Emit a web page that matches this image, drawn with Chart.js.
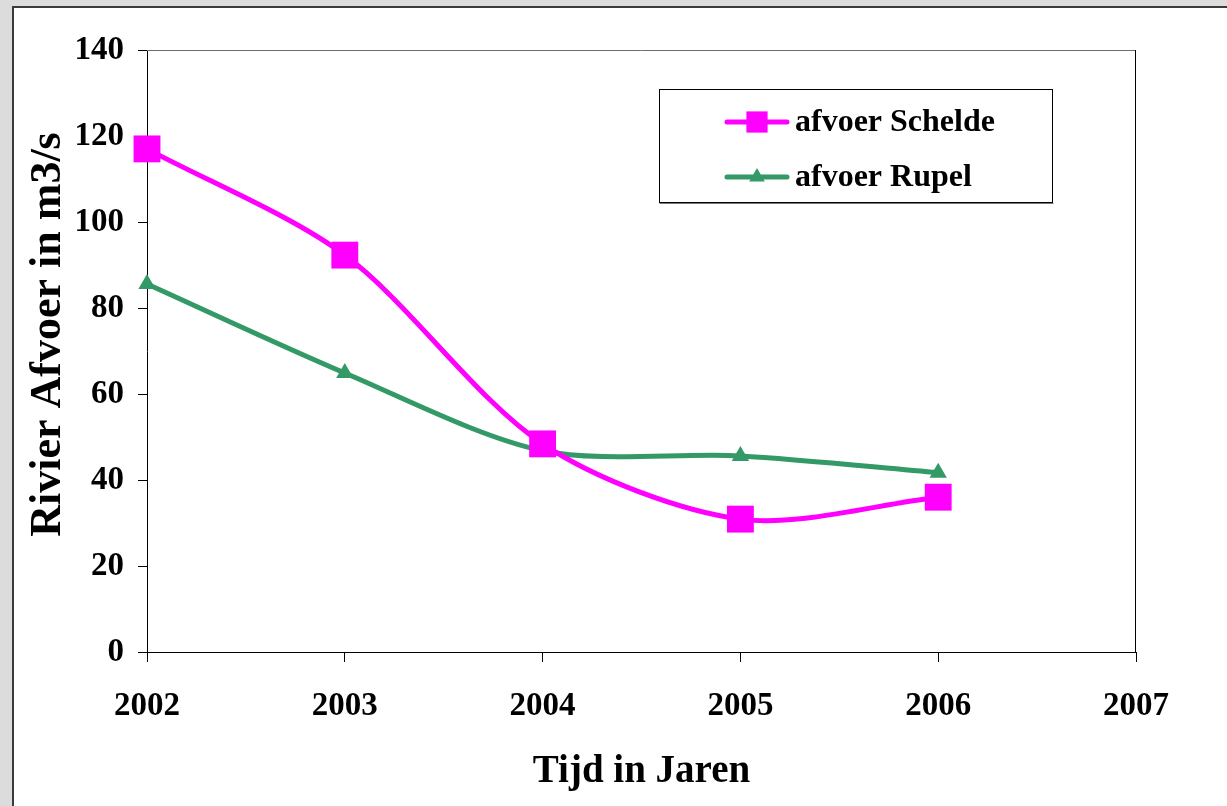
<!DOCTYPE html>
<html>
<head>
<meta charset="utf-8">
<title>Rivier Afvoer</title>
<script src="https://cdn.jsdelivr.net/npm/chart.js@4.4.1/dist/chart.umd.min.js"></script>
<style>
  html, body { margin: 0; padding: 0; width: 1227px; height: 806px; overflow: hidden; background: #dcdcdc; }
  #panel { position: absolute; left: 12px; top: 6px; width: 1300px; height: 900px; background: #ffffff;
           border-left: 2px solid #3a3a3a; border-top: 2px solid #3a3a3a; }
  #chart { position: absolute; left: 0; top: 0; }
</style>
</head>
<body>
<div id="panel"></div>
<canvas id="chart" width="1227" height="806"></canvas>
<script>
// Jaarlijkse afvoer (m3/s)
const years   = [2002, 2003, 2004, 2005, 2006];
const schelde = [117, 92.3, 48.4, 30.9, 36.0];
const rupel   = [85.6, 64.9, 46.8, 45.6, 41.7];

const yTicks = [0, 20, 40, 60, 80, 100, 120, 140];
const xTicks = [2002, 2003, 2004, 2005, 2006, 2007];

const seriesNames = ['afvoer Schelde', 'afvoer Rupel'];
const axisTitles = { x: 'Tijd in Jaren', y: '   Rivier Afvoer in m3/s' };

const SERIF = "'Liberation Serif', 'Times New Roman', serif";
Chart.defaults.font.family = SERIF;
Chart.defaults.color = '#000000';

const toPoints = vals => years.map((yr, i) => ({ x: yr, y: vals[i] }));

// Plot frame: top and right edges of the plot area
const frame = {
  id: 'frame',
  afterDatasetsDraw(chart) {
    const { ctx, chartArea: a } = chart;
    ctx.save();
    ctx.lineWidth = 1;
    ctx.strokeStyle = '#6e6e6e';
    ctx.beginPath();
    ctx.moveTo(a.left, a.top + 0.5);
    ctx.lineTo(a.right, a.top + 0.5);
    ctx.stroke();
    ctx.strokeStyle = '#000000';
    ctx.beginPath();
    ctx.moveTo(a.right - 0.5, a.top);
    ctx.lineTo(a.right - 0.5, a.bottom);
    ctx.stroke();
    ctx.restore();
  }
};

// Boxed legend inside the plot area
const boxLegend = {
  id: 'boxLegend',
  afterDraw(chart) {
    const { ctx } = chart;
    const box = { x: 659.5, y: 89.5, w: 393, h: 113 };
    ctx.save();
    ctx.fillStyle = '#ffffff';
    ctx.fillRect(box.x, box.y, box.w, box.h);
    ctx.lineWidth = 1;
    ctx.strokeStyle = '#000000';
    ctx.strokeRect(box.x, box.y, box.w, box.h);
    ctx.strokeStyle = '#7a7a7a';
    ctx.beginPath();
    ctx.moveTo(box.x, box.y + box.h + 1);
    ctx.lineTo(box.x + box.w + 1, box.y + box.h + 1);
    ctx.stroke();

    const rows = [122, 177];
    const markerRadius = [15, 9];
    chart.data.datasets.forEach((ds, i) => {
      const y = rows[i];
      ctx.strokeStyle = ds.borderColor;
      ctx.lineWidth = 5;
      ctx.lineCap = 'round';
      ctx.beginPath();
      ctx.moveTo(727, y);
      ctx.lineTo(787, y);
      ctx.stroke();
      ctx.fillStyle = ds.pointBackgroundColor;
      ctx.strokeStyle = ds.pointBackgroundColor;
      Chart.helpers.drawPoint(ctx, {
        pointStyle: ds.pointStyle, radius: markerRadius[i], rotation: 0, borderWidth: 0
      }, 757, y);
      ctx.fillStyle = '#000000';
      ctx.font = 'bold 32px ' + SERIF;
      ctx.textBaseline = 'middle';
      ctx.textAlign = 'left';
      ctx.fillText(ds.label, 795, y + 1);
    });
    ctx.restore();
  }
};

new Chart(document.getElementById('chart'), {
  type: 'line',
  data: {
    datasets: [
      {
        label: seriesNames[0],
        data: toPoints(schelde),
        borderColor: '#ff00ff',
        backgroundColor: '#ff00ff',
        pointBackgroundColor: '#ff00ff',
        pointBorderColor: '#ff00ff',
        borderWidth: 5,
        pointStyle: 'rect',
        pointRadius: 19,
        pointHoverRadius: 19,
        pointBorderWidth: 0,
        tension: 0.3,
        clip: false
      },
      {
        label: seriesNames[1],
        data: toPoints(rupel),
        borderColor: '#339966',
        backgroundColor: '#339966',
        pointBackgroundColor: '#339966',
        pointBorderColor: '#339966',
        borderWidth: 5,
        pointStyle: 'triangle',
        pointRadius: 10,
        pointHoverRadius: 10,
        pointBorderWidth: 0,
        tension: 0.3,
        clip: false
      }
    ]
  },
  options: {
    responsive: false,
    animation: false,
    devicePixelRatio: 1,
    layout: { padding: { left: 0, top: 50, right: 91, bottom: 0 } },
    plugins: {
      legend: { display: false },
      tooltip: { enabled: false }
    },
    scales: {
      x: {
        type: 'linear',
        min: xTicks[0],
        max: xTicks[xTicks.length - 1],
        afterFit(scale) { scale.height = 154; },
        afterBuildTicks(scale) { scale.ticks = xTicks.map(v => ({ value: v })); },
        ticks: {
          callback: v => String(v),
          font: { size: 33, weight: 'bold' },
          color: '#000000',
          padding: 25,
          maxRotation: 0,
          autoSkip: false
        },
        grid: { display: true, drawOnChartArea: false, drawTicks: true, tickLength: 10, color: '#000000', lineWidth: 1 },
        border: { display: true, color: '#000000', width: 1 },
        title: {
          display: true,
          text: axisTitles.x,
          font: { size: 39, weight: 'bold' },
          color: '#000000',
          padding: { top: 0, bottom: 11 }
        }
      },
      y: {
        min: yTicks[0],
        max: yTicks[yTicks.length - 1],
        afterFit(scale) { scale.width = 147; },
        afterBuildTicks(scale) { scale.ticks = yTicks.map(v => ({ value: v })); },
        ticks: {
          font: { size: 33, weight: 'bold' },
          color: '#000000',
          padding: 14
        },
        grid: { display: true, drawOnChartArea: false, drawTicks: true, tickLength: 9, color: '#000000', lineWidth: 1 },
        border: { display: true, color: '#000000', width: 1 },
        title: {
          display: true,
          text: axisTitles.y,
          font: { size: 44, weight: 'bold' },
          color: '#000000',
          padding: { top: 22, bottom: 0 }
        }
      }
    }
  },
  plugins: [frame, boxLegend]
});
</script>
</body>
</html>
